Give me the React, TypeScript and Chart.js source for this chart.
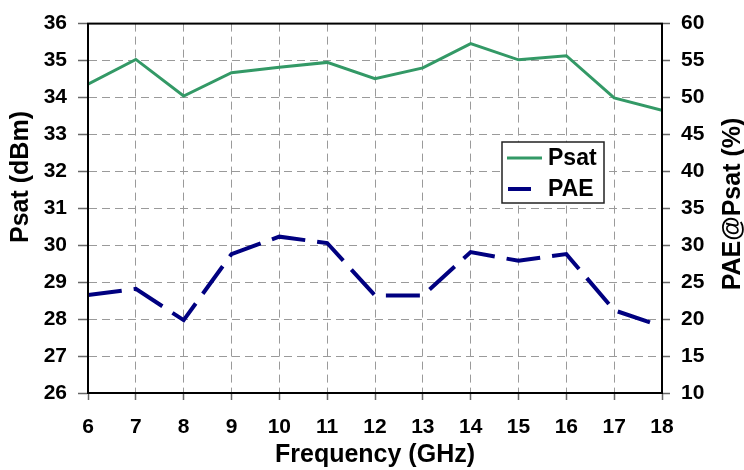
import React, { useEffect, useRef } from "react";
import { Chart, registerables } from "chart.js";

Chart.register(...registerables);

const frequencies = [6, 7, 8, 9, 10, 11, 12, 13, 14, 15, 16, 17, 18];
const psatValues = [34.36, 35.03, 34.04, 34.67, 34.82, 34.95, 34.51, 34.8, 35.46, 35.02, 35.13, 33.99, 33.65];
const paeValues = [23.26, 24.1, 19.86, 28.8, 31.16, 30.3, 23.2, 23.2, 29.07, 27.9, 28.8, 21.2, 19.0];
const seriesNames = ["Psat", "PAE"];
const xTitle = "Frequency (GHz)";
const leftTitle = "Psat (dBm)";
const rightTitle = "PAE@Psat (%)";

const GREEN = "#339966";
const NAVY = "#000080";
const FONT = "'Liberation Sans', Arial, sans-serif";

const framePlugin = {
  id: "frameAndExtras",
  afterDatasetsDraw(chart: any) {
    const { ctx, chartArea } = chart;
    ctx.save();
    ctx.strokeStyle = "#000";
    ctx.lineWidth = 2;
    ctx.strokeRect(chartArea.left, chartArea.top, chartArea.right - chartArea.left, chartArea.bottom - chartArea.top);

    // legend box
    const lx = 502, ly = 142, lw = 102, lh = 61;
    ctx.fillStyle = "#fff";
    ctx.fillRect(lx, ly, lw, lh);
    ctx.strokeStyle = "#222";
    ctx.lineWidth = 1.5;
    ctx.strokeRect(lx, ly, lw, lh);
    ctx.lineCap = "butt";
    ctx.strokeStyle = GREEN;
    ctx.lineWidth = 3;
    ctx.beginPath();
    ctx.moveTo(507, 158);
    ctx.lineTo(542, 158);
    ctx.stroke();
    ctx.strokeStyle = NAVY;
    ctx.lineWidth = 4;
    ctx.beginPath();
    ctx.moveTo(508, 189);
    ctx.lineTo(531, 189);
    ctx.stroke();
    ctx.fillStyle = "#000";
    ctx.font = `bold 23px ${FONT}`;
    ctx.textAlign = "left";
    ctx.textBaseline = "middle";
    ctx.fillText(seriesNames[0], 548, 159);
    ctx.fillText(seriesNames[1], 548, 190);

    // axis titles, reading bottom-to-top
    ctx.font = `bold 25px ${FONT}`;
    ctx.textAlign = "center";
    ctx.textBaseline = "middle";
    ctx.save();
    ctx.translate(21, 177);
    ctx.rotate(-Math.PI / 2);
    ctx.fillText(leftTitle, 0, 0);
    ctx.restore();
    ctx.save();
    ctx.translate(733, 204);
    ctx.rotate(-Math.PI / 2);
    ctx.fillText(rightTitle, 0, 0);
    ctx.restore();
    ctx.restore();
  },
};

export default function App() {
  const ref = useRef<HTMLCanvasElement>(null);
  useEffect(() => {
    document.body.style.margin = "0";
    const tickFont = { family: FONT, size: 21, weight: "bold" as const };
    const titleFont = { family: FONT, size: 25, weight: "bold" as const };
    const gridCommon = {
      color: "#9a9a9a",
      lineWidth: 1,
      tickColor: "#666",
      tickWidth: 1.5,
    };
    const chart = new Chart(ref.current!, {
      type: "line",
      data: {
        datasets: [
          {
            label: seriesNames[0],
            data: frequencies.map((f, i) => ({ x: f, y: psatValues[i] })),
            borderColor: GREEN,
            backgroundColor: GREEN,
            borderWidth: 3,
            pointRadius: 0,
            tension: 0,
            yAxisID: "y",
          },
          {
            label: seriesNames[1],
            data: frequencies.map((f, i) => ({ x: f, y: paeValues[i] })),
            borderColor: NAVY,
            backgroundColor: NAVY,
            borderWidth: 4,
            borderDash: [34, 12],
            pointRadius: 0,
            tension: 0,
            yAxisID: "y1",
          },
        ],
      },
      options: {
        responsive: false,
        animation: false,
        devicePixelRatio: 1,
        layout: { padding: { top: 20, left: 0, right: 0, bottom: 0 } },
        plugins: { legend: { display: false }, tooltip: { enabled: false }, title: { display: false } },
        scales: {
          x: {
            type: "linear",
            min: 6,
            max: 18,
            ticks: { stepSize: 1, font: tickFont, color: "#000", padding: 15, maxRotation: 0 },
            grid: { ...gridCommon, tickLength: 7 },
            border: { display: true, color: "#000", width: 2, dash: [8, 5] },
            title: { display: true, text: xTitle, font: titleFont, color: "#000", padding: { top: 0, bottom: 0 } },
            afterFit: (s: any) => { s.height = 77; },
          },
          y: {
            type: "linear",
            position: "left",
            min: 26,
            max: 36,
            ticks: { stepSize: 1, font: tickFont, color: "#000", padding: 11 },
            grid: { ...gridCommon, tickLength: 10 },
            border: { display: true, color: "#000", width: 2, dash: [8, 5] },
            afterFit: (s: any) => { s.width = 88; },
          },
          y1: {
            type: "linear",
            position: "right",
            min: 10,
            max: 60,
            ticks: { stepSize: 5, font: tickFont, color: "#000", padding: 11 },
            grid: { ...gridCommon, drawOnChartArea: false, tickLength: 8 },
            border: { display: true, color: "#000", width: 2 },
            afterFit: (s: any) => { s.width = 82; },
          },
        },
      },
      plugins: [framePlugin],
    } as any);
    return () => chart.destroy();
  }, []);
  return (
    <div style={{ position: "fixed", left: 0, top: 0, width: 744, height: 470, background: "#fff" }}>
      <canvas ref={ref} width={744} height={470} />
    </div>
  );
}
